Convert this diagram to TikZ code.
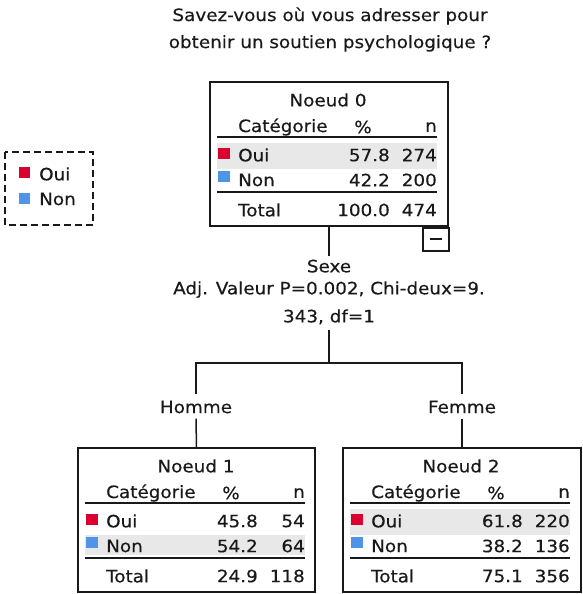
\documentclass[tikz,border=0pt]{standalone}
\usepackage{fontspec}
\setmainfont{DejaVu Sans}[FakeStretch=1.08,FakeBold=0.4]
\definecolor{ouired}{RGB}{218,0,48}
\definecolor{nonblue}{RGB}{80,148,230}
\definecolor{bandgray}{RGB}{232,232,232}
\definecolor{ink}{RGB}{25,25,25}
\tikzset{
  treebox/.style={draw=ink,line width=1.5pt,anchor=north west,minimum height=144pt,inner sep=0pt,outer sep=0pt},
  txt/.style={inner sep=0pt,text=ink},
  lbl/.style={inner sep=1pt,text=ink,align=center},
  conn/.style={draw=ink,line width=1.5pt},
}
\newcommand{\treecontent}[9]{%
 \begin{scope}[shift={(#1.north west)}]
  \ifnum#9=1 \fill[bandgray] (7,61) rectangle (227,87);\else \fill[bandgray] (7,87) rectangle (227,107);\fi
  \node[txt] (#1-t) at (118,18) {#2};
  \node[txt,anchor=west] (#1-c) at (28,45) {Catégorie};
  \node[txt] (#1-p) at (153,45) {\%};
  \node[txt,anchor=east] (#1-n) at (227,45) {n};
  \draw[ink,line width=1.3pt] (7,55) -- (227,55);
  \fill[ouired] (8,66) rectangle (20,77);
  \node[txt,anchor=west] (#1-o) at (28,73) {Oui};
  \node[txt,anchor=east] (#1-op) at (180,73) {#3};
  \node[txt,anchor=east] (#1-on) at (227,73) {#4};
  \fill[nonblue] (8,89) rectangle (20,100);
  \node[txt,anchor=west] (#1-nn) at (28,98) {Non};
  \node[txt,anchor=east] (#1-np) at (180,98) {#5};
  \node[txt,anchor=east] (#1-nc) at (227,98) {#6};
  \draw[ink,line width=2.4pt] (7,110) -- (227,110);
  \node[txt,anchor=west] (#1-tt) at (28,128) {Total};
  \node[txt,anchor=east] (#1-tp) at (180,128) {#7};
  \node[txt,anchor=east] (#1-tn) at (227,128) {#8};
 \end{scope}}
\begin{document}
\begin{tikzpicture}[x=1pt,y=-1pt,font=\fontsize{17}{27}\selectfont]
\useasboundingbox (0,0) rectangle (582,594);
% title
\node[lbl] (title) at (330,29.5) {Savez-vous où vous adresser pour\\obtenir un soutien psychologique ?};
% legend
\draw[ink,line width=1.3pt,dash pattern=on 7pt off 4pt] (5,152) rectangle (93,225);
\fill[ouired] (19,167) rectangle (30,178);
\node[txt,anchor=west] (lgo) at (39,174) {Oui};
\fill[nonblue] (19,193) rectangle (30,204);
\node[txt,anchor=west] (lgn) at (39,199) {Non};
% boxes
\node[treebox,minimum width=238pt] (n0) at (210,82) {};
\node[treebox,minimum width=237pt] (n1) at (78,448) {};
\node[treebox,minimum width=238pt] (n2) at (343,448) {};
\treecontent{n0}{Noeud 0}{57.8}{274}{42.2}{200}{100.0}{474}{1}
\treecontent{n1}{Noeud 1}{45.8}{54}{54.2}{64}{24.9}{118}{2}
\treecontent{n2}{Noeud 2}{61.8}{220}{38.2}{136}{75.1}{356}{1}
% minus box
\node[draw=ink,line width=1.5pt,minimum width=26pt,minimum height=23pt,inner sep=0pt,anchor=north west] (n0m) at (422,227) {};
\draw[ink,line width=1.6pt] ([xshift=-6pt]n0m.center) -- ([xshift=6pt]n0m.center);
% split label
\node[lbl,inner sep=0pt,font=\fontsize{17}{22}\selectfont] (split) at (329,292) {Sexe\\Adj. Valeur P=0.002, Chi-deux=9.\\[6pt]343, df=1};
\node[txt] (homme) at (196,407) {Homme};
\node[txt] (femme) at (462,407) {Femme};
\coordinate (bar) at (329,363);
\draw[conn] (n0.south -| split.north) -- ([yshift=4pt]split.north);
\draw[conn] ([yshift=-5pt]split.south) -- (bar);
\draw[conn] (bar) -| ([yshift=6pt]homme.north);
\draw[conn] (bar) -| ([yshift=6pt]femme.north);
\draw[conn] ([yshift=-5pt]homme.south) -- (n1.north);
\draw[conn] ([yshift=-5pt]femme.south) -- (n2.north);
\end{tikzpicture}
\end{document}
